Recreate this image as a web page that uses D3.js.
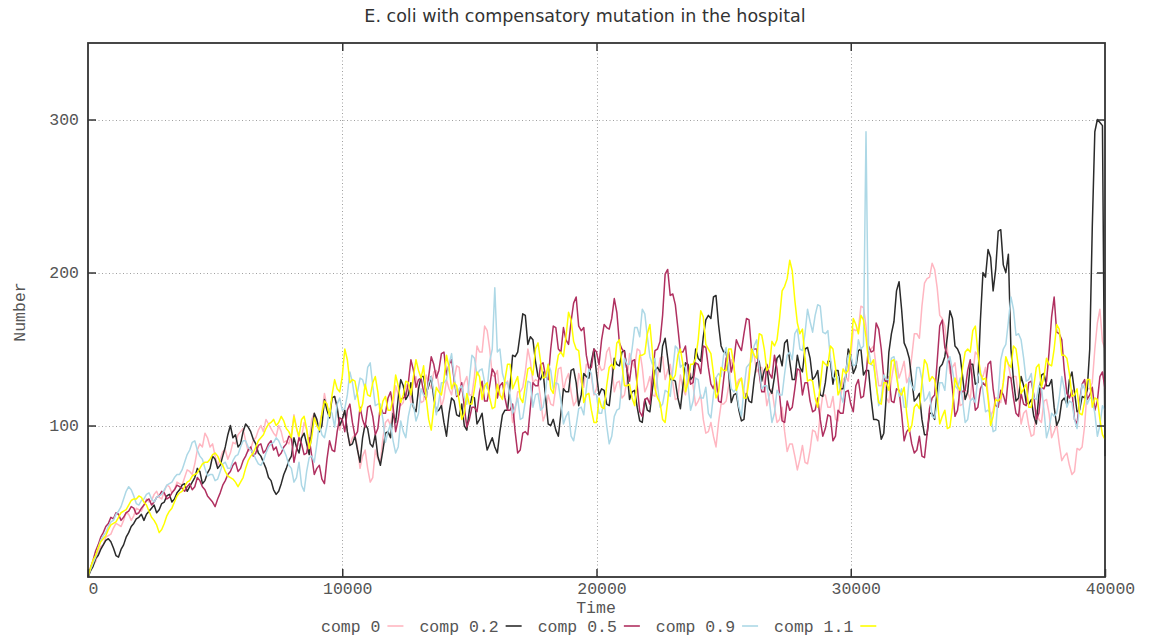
<!DOCTYPE html>
<html>
<head>
<meta charset="utf-8">
<script src="https://cdn.jsdelivr.net/npm/d3@7"></script>
<style>
  html, body { margin: 0; padding: 0; background: #fff; }
  svg { display: block; }
</style>
</head>
<body>
<svg id="chart" width="1149" height="636"></svg>
<script>
// Simulation output is sampled every 100 time units, t = 0 .. 40000
const timeStep = 100;
const timeMax = 40000;

const seriesNames = ["comp 0", "comp 0.2", "comp 0.5", "comp 0.9", "comp 1.1"];
const seriesColors = ["#ffb6c1", "#2b2b2b", "#b03060", "#add8e6", "#ffff00"];

const xTicks = [0, 10000, 20000, 30000, 40000];
const yTicks = [100, 200, 300];

// Population counts; each row holds 40 samples (4000 time units)
const comp0 = [
  1,6,9,11,17,21,22,27,28,29,33,36,35,34,38,43,42,38,41,46,45,44,48,52,50,51,55,57,53,52,57,61,60,56,58,63,62,61,66,71,
  70,68,75,84,88,86,95,92,86,88,80,74,78,83,84,78,82,89,88,94,96,98,90,83,85,90,92,97,100,96,104,101,98,95,93,100,96,89,90,88,
  94,107,99,91,92,102,97,89,104,108,100,100,108,121,112,107,118,119,110,97,104,109,96,87,92,94,86,72,80,84,72,63,66,84,78,76,92,102,104,100,
  112,126,120,113,115,127,124,115,130,132,122,115,116,133,128,124,135,136,126,112,118,130,124,120,130,139,138,122,128,132,120,120,132,152,148,148,165,162,150,133,
  132,136,120,118,126,129,118,102,110,122,122,125,135,150,142,128,130,129,118,103,108,120,114,113,125,137,138,123,130,134,122,113,116,134,128,125,140,140,132,120,
  124,140,136,137,148,151,140,122,128,129,118,120,130,147,142,138,150,149,138,122,126,132,120,119,132,144,145,130,136,140,128,117,118,133,124,120,134,134,126,113,
  116,120,104,95,96,102,93,86,102,114,114,116,126,143,138,126,130,131,122,119,135,150,146,135,138,138,128,113,120,124,112,102,104,112,96,83,88,88,80,71,
  78,87,76,75,84,97,96,90,108,120,120,112,112,119,104,103,118,130,132,129,145,163,162,163,178,177,165,147,150,152,138,126,126,134,118,115,130,140,142,131,
  136,142,128,132,145,160,160,157,178,193,196,197,206,202,190,172,170,165,150,134,138,141,126,113,114,123,122,117,134,148,146,133,132,138,120,106,110,118,118,115,
  128,144,140,131,132,132,118,101,108,110,100,93,94,110,104,102,116,117,108,92,96,101,88,77,80,82,74,68,70,85,84,86,100,124,124,128,150,167,176,155,
  150
];

const comp02 = [
  1,5,8,13,15,19,22,25,26,24,20,15,14,19,22,27,30,34,36,39,40,42,38,42,44,46,48,43,45,49,50,54,55,50,52,56,58,61,62,57,
  60,63,66,72,70,62,64,69,72,80,78,72,74,80,86,94,100,92,94,86,88,96,101,99,96,91,88,82,80,76,72,66,64,58,55,57,62,68,72,77,
  80,92,86,82,92,95,88,81,96,108,104,96,100,117,110,105,118,119,112,100,104,110,96,87,88,93,84,76,92,101,98,88,86,94,80,74,84,95,96,92,
  108,102,118,130,126,117,120,128,112,109,124,132,132,121,126,132,118,109,110,113,102,93,108,118,116,107,106,114,100,97,110,119,118,101,104,108,94,84,88,92,
  86,82,96,107,110,110,126,146,145,148,160,173,172,153,158,156,142,132,130,135,118,101,100,104,97,93,108,124,122,122,136,137,128,113,120,134,132,131,142,150,
  134,120,124,123,114,113,128,144,140,139,148,149,136,117,122,123,112,103,102,117,110,109,124,136,138,135,152,157,144,130,130,129,118,111,126,141,140,130,132,150,
  144,142,158,169,172,170,184,185,166,152,148,148,134,115,120,121,110,103,104,121,116,115,130,141,142,129,136,139,124,121,132,144,146,139,154,156,142,130,130,146,
  138,135,150,151,144,130,132,136,120,119,128,142,142,127,136,136,124,124,132,150,146,134,138,149,150,133,136,136,118,104,104,103,91,95,120,148,160,168,188,194,
  176,154,150,144,130,116,118,121,104,94,94,108,108,104,124,138,140,145,158,175,170,152,150,146,132,117,122,140,140,127,128,169,200,197,215,210,188,202,227,228,
  205,200,212,150,130,116,118,132,126,115,114,117,106,101,120,133,134,126,126,130,112,100,104,116,118,114,130,135,122,109,110,119,118,123,150,230,292,300,298,296,
  80
];

const comp05 = [
  1,7,12,18,22,27,30,34,36,40,39,43,42,38,40,43,44,47,46,42,43,46,48,51,52,48,50,53,54,57,56,52,53,56,58,61,60,59,57,60,
  62,58,60,66,64,60,58,54,52,50,47,52,56,61,64,68,70,74,76,70,72,77,80,84,86,80,82,87,88,82,84,88,90,84,86,80,82,86,88,93,
  92,76,84,92,88,81,82,92,80,68,72,74,65,62,78,90,84,83,96,105,104,96,110,114,102,93,96,112,104,99,112,113,106,94,98,113,108,108,118,122,
  112,96,104,117,118,119,128,143,136,125,130,131,122,117,132,145,140,131,136,147,148,133,140,143,130,119,120,128,112,99,104,112,112,109,122,129,116,116,126,137,
  134,118,126,128,118,110,110,114,96,82,84,95,96,94,112,128,126,126,140,141,132,130,150,165,164,150,148,164,156,153,168,180,184,165,162,164,146,137,138,150,
  148,140,156,166,164,163,170,183,174,154,150,148,136,129,142,143,126,109,106,117,118,114,132,149,150,155,172,199,202,185,186,179,164,148,148,152,136,127,128,141,
  140,134,152,151,138,127,124,131,116,115,130,144,148,135,142,156,152,149,160,170,169,149,150,150,134,122,122,140,134,131,146,137,120,103,102,116,110,112,124,137,
  136,120,128,128,116,109,110,118,104,93,98,107,106,90,93,110,108,108,122,123,114,109,126,130,118,119,132,152,148,149,167,163,150,131,128,132,116,115,124,123,
  108,90,96,98,88,82,84,93,80,79,94,111,118,120,142,165,169,151,146,140,124,106,110,124,122,123,136,143,126,110,112,124,128,126,140,142,124,113,112,123,
  120,114,132,131,118,108,106,121,114,113,128,129,120,104,108,125,124,129,148,171,184,161,160,156,136,121,118,123,104,101,116,127,130,117,120,125,110,116,132,135,
  124
];

const comp09 = [
  1,6,10,14,20,25,28,30,34,37,38,42,44,47,52,57,60,58,54,49,48,51,52,55,56,52,50,53,54,55,58,61,62,63,66,68,68,71,76,81,
  84,89,90,84,80,78,72,67,68,68,64,65,70,75,76,72,72,77,80,81,86,90,90,86,84,82,78,75,74,77,82,86,88,89,92,90,86,84,80,74,
  72,63,66,76,61,57,70,79,80,76,88,101,94,92,100,111,108,99,114,118,110,111,120,135,128,117,122,131,130,124,138,141,126,113,114,114,104,89,96,101,
  90,82,86,103,96,92,106,114,114,103,108,124,120,119,128,132,122,107,116,128,128,130,140,147,132,120,124,126,118,114,130,146,144,133,136,137,128,124,142,150,
  190,148,150,134,128,128,120,108,112,118,104,105,116,129,128,112,120,121,110,112,122,140,136,124,128,127,116,101,106,109,93,90,100,111,112,107,124,137,134,121,
  120,108,108,116,100,88,93,106,110,111,128,144,140,140,150,164,164,158,176,173,158,145,140,144,126,112,114,123,122,119,136,152,150,138,140,138,126,110,116,131,
  130,118,118,125,108,105,120,131,134,132,146,151,136,124,122,124,112,106,124,138,140,142,152,156,138,124,126,126,116,102,108,123,120,120,134,146,148,143,160,163,
  150,149,160,176,168,161,172,179,178,161,160,162,144,132,130,132,120,115,134,146,146,139,140,156,150,152,292,150,140,139,128,113,118,133,130,130,144,145,136,119,
  124,112,112,131,126,123,138,138,130,116,118,122,106,105,114,128,128,123,142,145,136,126,124,131,116,102,104,116,118,115,132,136,122,109,110,108,96,97,120,143,
  150,153,168,184,176,159,160,156,144,129,130,134,118,117,126,125,110,92,98,108,106,108,118,132,124,112,116,115,104,98,112,127,124,114,118,118,108,93,100,113,
  110
];

const comp11 = [
  1,7,12,15,20,24,26,28,32,35,36,37,40,43,44,45,48,51,52,52,54,53,50,48,44,40,38,35,30,32,36,41,44,46,50,54,56,57,60,63,
  64,67,68,69,72,75,76,76,78,81,82,80,76,74,70,67,66,65,63,60,63,66,72,77,80,82,86,90,92,94,98,101,102,104,100,102,106,103,98,96,
  92,106,98,93,104,106,98,85,92,105,100,97,108,116,114,106,120,130,124,122,132,150,143,128,130,129,120,109,114,127,120,119,128,132,122,107,116,119,110,110,
  118,133,126,115,120,129,128,120,132,143,136,131,139,118,104,97,112,125,122,120,130,146,138,124,128,126,116,104,108,121,114,114,124,135,132,117,126,128,118,111,
  112,127,120,117,130,140,140,124,128,132,118,115,126,137,138,133,150,154,142,131,132,140,124,121,136,146,148,145,158,174,169,155,150,149,134,115,120,121,110,102,
  102,118,112,111,126,138,140,137,154,156,140,126,126,127,118,113,130,146,146,147,160,166,148,124,118,115,104,102,116,133,130,133,146,150,140,122,128,140,140,144,
  156,175,171,153,150,147,134,118,122,138,136,136,150,150,140,123,128,131,118,118,130,150,146,144,160,159,150,136,138,155,152,156,170,188,191,196,208,201,182,167,
  160,163,144,129,130,129,118,112,126,142,140,139,152,150,138,120,124,137,134,136,150,170,166,160,172,169,158,141,140,143,126,115,114,128,128,123,142,143,132,122,
  120,125,108,96,100,112,114,111,128,143,140,129,132,130,118,101,106,110,98,99,112,131,126,123,138,148,150,148,162,165,148,134,130,131,118,100,106,117,116,118,
  128,145,140,138,152,150,138,121,124,127,112,112,126,138,140,125,132,144,140,139,150,166,163,146,146,144,134,119,120,124,108,107,116,130,130,112,118,117,104,94,
  91
];

const seriesValues = [comp0, comp02, comp05, comp09, comp11];

// ---- layout ----
const W = 1149, H = 636;
const plot = { left: 88, right: 1105, top: 43, bottom: 577 };
const monoFont = "'Liberation Mono', 'DejaVu Sans Mono', monospace";
const labelColor = "#555";
const labelSize = "16.5px";

const svg = d3.select("#chart");
svg.append("rect").attr("width", W).attr("height", H).attr("fill", "#fff");

const x = d3.scaleLinear().domain([0, timeMax]).range([plot.left, plot.right]);
const y = d3.scaleLinear().domain([1, 350]).range([plot.bottom, plot.top]);

// Dotted grid
const grid = svg.append("g").attr("class", "grid")
  .attr("stroke", "#a0a0a0").attr("stroke-width", 1).attr("stroke-dasharray", "1,2.5");
grid.selectAll("line.gx").data(xTicks.filter(t => t > 0 && t < timeMax)).join("line")
  .attr("class", "gx")
  .attr("x1", d => Math.round(x(d)) + 0.5).attr("x2", d => Math.round(x(d)) + 0.5)
  .attr("y1", plot.top).attr("y2", plot.bottom);
grid.selectAll("line.gy").data(yTicks).join("line")
  .attr("class", "gy")
  .attr("y1", d => Math.round(y(d)) + 0.5).attr("y2", d => Math.round(y(d)) + 0.5)
  .attr("x1", plot.left).attr("x2", plot.right);

// Data lines, drawn in legend order
const line = d3.line()
  .x((d, i) => x(i * timeStep))
  .y(d => y(d));

const lines = svg.append("g").attr("class", "series");
seriesValues.forEach((vals, k) => {
  lines.append("path")
    .datum(vals)
    .attr("fill", "none")
    .attr("stroke", seriesColors[k])
    .attr("stroke-width", 1.5)
    .attr("stroke-linejoin", "round")
    .attr("d", line);
});

// Axes with inward ticks on all four sides
function styleAxis(g) {
  g.select(".domain").remove();
  g.selectAll(".tick line").attr("stroke", "#333").attr("stroke-width", 1.5);
  g.selectAll(".tick text")
    .attr("fill", labelColor)
    .style("font-family", monoFont)
    .style("font-size", labelSize);
}

svg.append("g")
  .attr("transform", `translate(${plot.left},0)`)
  .call(d3.axisLeft(y).tickValues(yTicks).tickSize(-8).tickPadding(9).tickFormat(d3.format("d")))
  .call(styleAxis);

svg.append("g")
  .attr("transform", `translate(${plot.right},0)`)
  .call(d3.axisRight(y).tickValues(yTicks).tickSize(-8).tickFormat(""))
  .call(styleAxis);

svg.append("g")
  .attr("transform", `translate(0,${plot.bottom})`)
  .call(d3.axisBottom(x).tickValues(xTicks).tickSize(-8).tickPadding(5).tickFormat(d3.format("d")))
  .call(styleAxis)
  .call(g => g.selectAll(".tick text").attr("dx", 5));

svg.append("g")
  .attr("transform", `translate(0,${plot.top})`)
  .call(d3.axisTop(x).tickValues(xTicks.filter(t => t > 0 && t < timeMax)).tickSize(-8).tickFormat(""))
  .call(styleAxis);

// Frame
svg.append("rect")
  .attr("x", plot.left).attr("y", plot.top)
  .attr("width", plot.right - plot.left).attr("height", plot.bottom - plot.top)
  .attr("fill", "none").attr("stroke", "#333").attr("stroke-width", 1.8);

// Title
svg.append("text")
  .attr("x", 585).attr("y", 22)
  .attr("text-anchor", "middle")
  .attr("fill", "#333")
  .style("font-family", "'DejaVu Sans', Verdana, sans-serif")
  .style("font-size", "17.5px")
  .text("E. coli with compensatory mutation in the hospital");

// Axis titles
svg.append("text")
  .attr("x", 596).attr("y", 613)
  .attr("text-anchor", "middle")
  .attr("fill", labelColor)
  .style("font-family", monoFont).style("font-size", labelSize)
  .text("Time");

svg.append("text")
  .attr("transform", "translate(25,312) rotate(-90)")
  .attr("text-anchor", "middle")
  .attr("fill", labelColor)
  .style("font-family", monoFont).style("font-size", labelSize)
  .text("Number");

// Legend along the bottom: label followed by a short line sample
const legend = svg.append("g").attr("class", "legend");
let lx = 321;
const ly = 632;
seriesNames.forEach((name, k) => {
  const t = legend.append("text")
    .attr("x", lx).attr("y", ly)
    .attr("fill", labelColor)
    .style("font-family", monoFont).style("font-size", labelSize)
    .text(name);
  const w = t.node().getComputedTextLength();
  legend.append("line")
    .attr("x1", lx + w + 7).attr("x2", lx + w + 23)
    .attr("y1", ly - 6).attr("y2", ly - 6)
    .attr("stroke", seriesColors[k]).attr("stroke-width", 1.6);
  lx += w + 39;
});
</script>
</body>
</html>
